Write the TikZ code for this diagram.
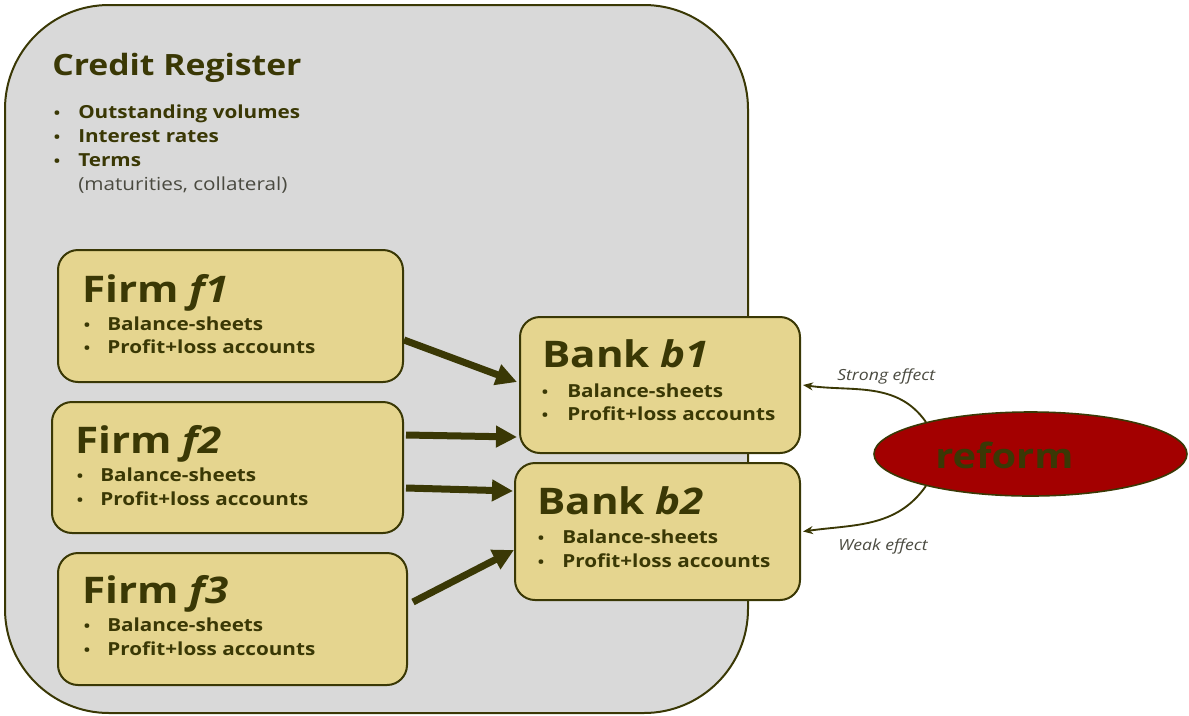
\documentclass[tikz,border=0pt]{standalone}
\usepackage{fontspec}
\setmainfont{Open Sans}[FakeStretch=1.15]
\usetikzlibrary{arrows.meta,shapes.geometric,calc}
\definecolor{olive}{HTML}{3A3805}
\definecolor{regbg}{HTML}{D9D9D9}
\definecolor{boxfill}{HTML}{E5D58F}
\definecolor{reformred}{HTML}{A30000}
\definecolor{subgray}{HTML}{4A4A40}
\tikzset{
  txt/.style={inner sep=0pt, text=olive, font=\bfseries\fontsize{13.5pt}{16pt}\selectfont},
  ttl/.style={inner sep=0pt, text=olive, anchor=base west, font=\bfseries\fontsize{27.5pt}{30pt}\selectfont},
  firmbox/.style={draw=olive, line width=1.5pt, fill=boxfill, rounded corners=15pt, inner sep=0pt},
  bigarrow/.style={draw=olive, line width=5.25pt, -{Triangle[length=15.75pt,width=15.5pt]}},
  effarrow/.style={draw=olive, line width=1.4pt, -{Stealth[length=7.5pt,width=6pt]}},
  efftxt/.style={inner sep=0pt, anchor=base west, text=subgray, font=\itshape\fontsize{11.5pt}{13pt}\selectfont},
}
\newcommand\bitem[5]{%
  \node[txt,anchor=base] (#5d) at (#1,#3) {\fontsize{11pt}{13pt}\selectfont•};
  \node[txt,anchor=base west] (#5) at (#2,#3) {#4};}
\begin{document}
\begin{tikzpicture}[x=0.75pt,y=-0.75pt]
\useasboundingbox (0,0) rectangle (1189,715);
% credit register background
\draw[draw=olive, line width=1.5pt, fill=regbg, rounded corners=78pt] (5,5) rectangle (748,713);
\node[inner sep=0pt, anchor=base west, text=olive, font=\bfseries\fontsize{22pt}{26pt}\selectfont] (crtitle) at (52,75) {Credit Register};
\bitem{57}{78}{118}{Outstanding volumes}{cr1}
\bitem{57}{78}{142}{Interest rates}{cr2}
\bitem{57}{78}{166}{Terms}{cr3}
\node[inner sep=0pt, anchor=base west, text=subgray, font=\fontsize{13.5pt}{16pt}\selectfont] (cr4) at (78,190) {(maturities, collateral)};

% firms
\node[firmbox, minimum width=345*0.75pt, minimum height=132*0.75pt] (f1) at (230.5,316) {};
\node[ttl] (f1t) at (82,302) {Firm \textit{f1}};
\bitem{87}{107}{330}{Balance-sheets}{f1a}
\bitem{87}{107}{353}{Profit+loss accounts}{f1b}

\node[firmbox, minimum width=351*0.75pt, minimum height=131*0.75pt] (f2) at (227.5,467.5) {};
\node[ttl] (f2t) at (75,453) {Firm \textit{f2}};
\bitem{80}{100}{481}{Balance-sheets}{f2a}
\bitem{80}{100}{505}{Profit+loss accounts}{f2b}

\node[firmbox, minimum width=349*0.75pt, minimum height=132*0.75pt] (f3) at (232.5,619) {};
\node[ttl] (f3t) at (82,603) {Firm \textit{f3}};
\bitem{87}{107}{631}{Balance-sheets}{f3a}
\bitem{87}{107}{655}{Profit+loss accounts}{f3b}

% banks
\node[firmbox, minimum width=280*0.75pt, minimum height=136*0.75pt] (b1) at (660,385) {};
\node[ttl] (b1t) at (542,367) {Bank \textit{b1}};
\bitem{545}{567}{397}{Balance-sheets}{b1a}
\bitem{545}{567}{420}{Profit+loss accounts}{b1b}

\node[firmbox, minimum width=285*0.75pt, minimum height=137*0.75pt] (b2) at (657.5,531.5) {};
\node[ttl] (b2t) at (537,514) {Bank \textit{b2}};
\bitem{541}{562}{543}{Balance-sheets}{b2a}
\bitem{541}{562}{567}{Profit+loss accounts}{b2b}

% arrows firms -> banks
\draw[bigarrow] ($(f1.east)+(0,24)$) -- ($(b1.west)+(-2,-3)$);
\draw[bigarrow] ($(f2.east)+(2,-32.5)$) -- ($(b1.west)+(-2,52)$);
\draw[bigarrow] ($(f2.east)+(2,20.5)$) -- ($(b2.west)+(-1,-40.5)$);
\draw[bigarrow] ($(f3.east)+(5,-17)$) -- ($(b2.west)+(0,18.5)$);

% reform
\node[ellipse, draw=olive, line width=1.2pt, fill=reformred, minimum width=313*0.75pt, minimum height=84*0.75pt, inner sep=0pt] (reform) at (1030.5,454) {};
\node[inner sep=0pt, anchor=base west, text=olive, font=\bfseries\fontsize{26pt}{30pt}\selectfont] (reformt) at (935,468) {reform};

\draw[effarrow] (reform.163) to[out=125,in=-8] ($(b1.east)+(2,0)$);
\draw[effarrow] (reform.197) to[out=-125,in=8] ($(b2.east)+(2,0)$);
\node[efftxt] (strong) at (837,380) {Strong effect};
\node[efftxt] (weak) at (838,550) {Weak effect};
\end{tikzpicture}
\end{document}
